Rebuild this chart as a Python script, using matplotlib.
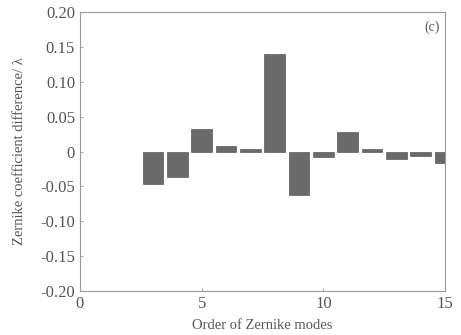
import numpy as np
import matplotlib.pyplot as plt

plt.rcParams['font.family'] = ['Liberation Serif', 'DejaVu Serif']

modes = [3, 4, 5, 6, 7, 8, 9, 10, 11, 12, 13, 14, 15]
diff = [-0.046, -0.036, 0.033, 0.008, 0.003, 0.140, -0.062, -0.008,
        0.028, 0.003, -0.011, -0.007, -0.017]

yticks = [0.20, 0.15, 0.10, 0.05, 0, -0.05, -0.10, -0.15, -0.20]
ytick_labels = ['0.20', '0.15', '0.10', '0.05', '0', '-0.05', '-0.10',
                '-0.15', '-0.20']
xticks = [0, 5, 10, 15]

text_color = '#555555'

fig = plt.figure(figsize=(4.61, 3.35), dpi=100)
ax = fig.add_axes([0.1735, 0.131, 0.792, 0.833])

ax.bar(modes, diff, width=0.85, color='#6a6a6a', edgecolor='#5a5a5a',
       linewidth=0.5)

ax.set_xlim(0, 15)
ax.set_ylim(-0.20, 0.20)
ax.set_xticks(xticks)
ax.set_yticks(yticks)
ax.set_yticklabels(ytick_labels)
ax.tick_params(direction='in', length=2, width=0.6, colors='#999999',
               labelcolor=text_color, labelsize=12)

for s in ax.spines.values():
    s.set_color('#999999')
    s.set_linewidth(0.8)

ax.text(0.985, 0.97, '(c)', transform=ax.transAxes, ha='right', va='top',
        fontsize=10, color=text_color)

ax.set_xlabel('Order of Zernike modes', fontsize=10.5, color=text_color,
              labelpad=5)
ax.set_ylabel('Zernike coefficient difference/ λ', fontsize=10.5,
              color=text_color, labelpad=10)

fig.savefig('out.png', dpi=100)
